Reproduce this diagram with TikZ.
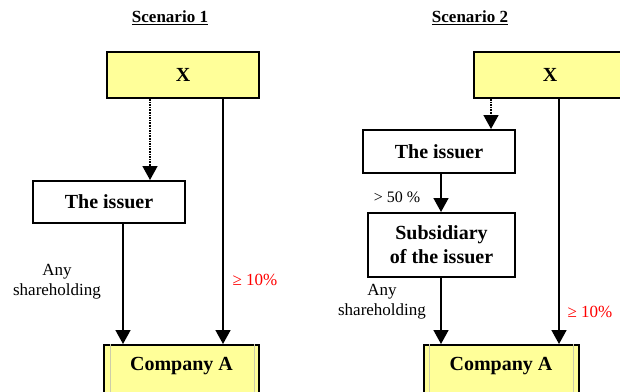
\documentclass[tikz,border=0pt]{standalone}
\usepackage{fontspec}
\setmainfont{Liberation Serif}
\usetikzlibrary{arrows.meta}
\definecolor{boxyellow}{RGB}{255,255,153}
\definecolor{pctred}{RGB}{255,0,0}
\definecolor{rimgray}{RGB}{205,205,170}

\begin{document}
\begin{tikzpicture}[x=1pt,y=-1pt,
  entity/.style={draw, line width=2pt, minimum width=152pt, minimum height=46pt, inner sep=0pt,
    align=center, font=\fontsize{20}{24}\selectfont\bfseries},
  company/.style={entity, fill=boxyellow, anchor=north, minimum width=155pt, minimum height=0pt,
    text height=20pt, text depth=45pt, inner ysep=5pt},
  title/.style={font=\fontsize{17}{20}\selectfont\bfseries},
  note/.style={align=center, font=\fontsize{17}{20}\selectfont},
  link/.style={line width=1.6pt, -{Triangle[width=15pt,length=14pt]}}]
  \useasboundingbox (0,0) rectangle (620,391);
  \clip (0,0) rectangle (620,391);

  % Scenario 1
  \node[title] (title1) at (170,18) {\underline{Scenario 1}};
  \node[entity, fill=boxyellow] (x1) at (183,75) {X};
  \node[entity, minimum height=42pt] (issuer1) at (109,202) {The issuer};
  \node[company] (compA1) at (181.5,344) {Company A};
  \draw[rimgray, line width=1pt] ([xshift=7]compA1.north west) -- ([xshift=7]compA1.south west);
  \draw[rimgray, line width=1pt] ([xshift=-6]compA1.north east) -- ([xshift=-6]compA1.south east);

  \draw[link, densely dotted] ([xshift=-33]x1.south) -- ([xshift=-33]x1.south |- issuer1.north);
  \draw[link] ([xshift=14]issuer1.south) -- ([xshift=14]issuer1.south |- compA1.north);
  \draw[link] ([xshift=40]x1.south) -- ([xshift=40]x1.south |- compA1.north);

  \node[note] (any1) at (57,282) {Any\\shareholding};
  \node[note, text=pctred] (pct1) at (255,280) {≥ 10\%};

  % Scenario 2
  \node[title] (title2) at (470,18) {\underline{Scenario 2}};
  \node[entity, fill=boxyellow] (x2) at (550,75) {X};
  \node[entity, minimum height=43pt] (issuer2) at (439,151.5) {The issuer};
  \node[entity, minimum width=147pt, minimum height=64pt] (sub2) at (441.5,245) {Subsidiary\\of the issuer};
  \node[company] (compA2) at (501,344) {Company A};
  \draw[rimgray, line width=1pt] ([xshift=7]compA2.north west) -- ([xshift=7]compA2.south west);
  \draw[rimgray, line width=1pt] ([xshift=-6]compA2.north east) -- ([xshift=-6]compA2.south east);

  \draw[link, densely dotted] ([xshift=-59]x2.south) -- ([xshift=-59]x2.south |- issuer2.north);
  \draw[link] ([xshift=2]issuer2.south) -- ([xshift=2]issuer2.south |- sub2.north);
  \draw[link] ([xshift=-0.5]sub2.south) -- ([xshift=-0.5]sub2.south |- compA2.north);
  \draw[link] ([xshift=9]x2.south) -- ([xshift=9]x2.south |- compA2.north);

  \node[note, font=\fontsize{16}{20}\selectfont] (maj2) at (397,197) {> 50 \%};
  \node[note] (any2) at (382,302) {Any\\shareholding};
  \node[note, text=pctred] (pct2) at (590,312) {≥ 10\%};
\end{tikzpicture}
\end{document}
